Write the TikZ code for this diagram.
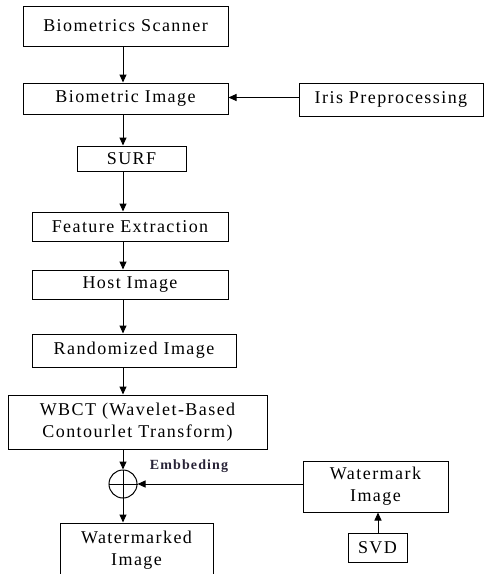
\documentclass[tikz,border=0pt]{standalone}
\usepackage{fontspec}
\setmainfont{Liberation Serif}[LetterSpace=8]
\newfontfamily\embfont{Liberation Serif}[LetterSpace=8]
\usetikzlibrary{arrows.meta}
\definecolor{embcol}{RGB}{40,35,55}
\begin{document}
\begin{tikzpicture}[x=1pt,y=-1pt,
  box/.style={draw, line width=1pt, inner sep=0pt, align=center,
    font=\fontsize{18}{22}\selectfont},
  conn/.style={line width=1pt, -{Triangle[length=8pt,width=7pt]}}]
\path[use as bounding box, clip] (0,0) rectangle (484,574);
\node[box, minimum width=205, minimum height=40] (scanner) at (125.5,26) {Biometrics Scanner};
\node[box, minimum width=205, minimum height=31] (bimg) at (125.5,98.5) {Biometric Image};
\node[box, minimum width=184, minimum height=33] (iris) at (391,99.5) {Iris Preprocessing};
\node[box, minimum width=109, minimum height=25] (surf) at (131.5,158.5) {SURF};
\node[box, minimum width=196, minimum height=29] (feat) at (130,226.5) {Feature Extraction};
\node[box, minimum width=196, minimum height=29] (host) at (130,284.5) {Host Image};
\node[box, minimum width=204, minimum height=33] (rand) at (134,350.5) {Randomized Image};
\node[box, minimum width=259, minimum height=54] (wbct) at (137.5,422) {WBCT (Wavelet-Based\\Contourlet Transform)};
\node[draw, circle, line width=1pt, minimum size=28, inner sep=0pt] (sum) at (123,484) {};
\node[box, minimum width=145, minimum height=51] (wm) at (375.5,486.5) {Watermark\\Image};
\node[box, minimum width=59, minimum height=29] (svd) at (377.5,547.5) {SVD};
\node[box, minimum width=153, minimum height=54] (wmd) at (136.5,550) {Watermarked\\Image};
\node[font=\embfont\bfseries\fontsize{14}{16}\selectfont, text=embcol, inner sep=0pt] (emb) at (189,466) {Embbeding};
\coordinate (ax) at (123,0);
\coordinate (bx) at (378,0);
\coordinate (iy) at (0,97.5);
\draw[conn] (scanner.south -| ax) -- (bimg.north -| ax);
\draw[conn] (bimg.south -| ax) -- (surf.north -| ax);
\draw[conn] (surf.south -| ax) -- (feat.north -| ax);
\draw[conn] (feat.south -| ax) -- (host.north -| ax);
\draw[conn] (host.south -| ax) -- (rand.north -| ax);
\draw[conn] (rand.south -| ax) -- (wbct.north -| ax);
\draw[conn] (wbct.south -| ax) -- (sum.north);
\draw[line width=1pt] (sum.north) -- (sum.south) (sum.west) -- (sum.east);
\draw[conn] (sum.south) -- (wmd.north -| ax);
\draw[conn] (iris.west |- iy) -- (bimg.east |- iy);
\draw[conn] (wm.west |- sum.east) -- (sum.east);
\draw[conn] (svd.north -| bx) -- (wm.south -| bx);
\end{tikzpicture}
\end{document}
